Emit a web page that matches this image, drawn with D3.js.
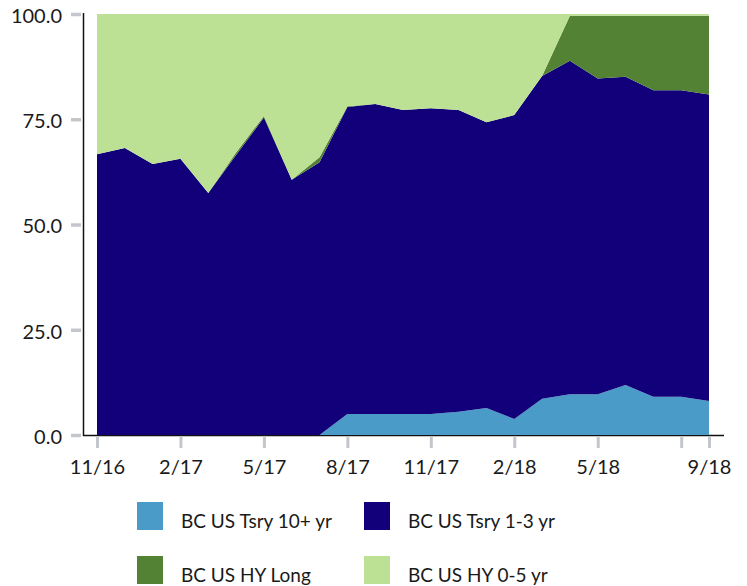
<!DOCTYPE html>
<html>
<head>
<meta charset="utf-8">
<script src="https://cdn.jsdelivr.net/npm/d3@7"></script>
<style>
  html, body { margin: 0; padding: 0; background: #ffffff; }
  svg { display: block; font-family: Lato, "DejaVu Sans", sans-serif; }
</style>
</head>
<body>
<svg id="chart" width="747" height="586"></svg>
<script>
// Monthly allocation (%), Nov 2016 – Sep 2018
const months = ["11/16","12/16","1/17","2/17","3/17","4/17","5/17","6/17","7/17","8/17","9/17","10/17",
                "11/17","12/17","1/18","2/18","3/18","4/18","5/18","6/18","7/18","8/18","9/18"];
const tsryLong  = [0, 0, 0, 0, 0, 0, 0, 0, 0, 5.0, 5.0, 5.0, 5.0, 5.5, 6.4, 3.8, 8.6, 9.7, 9.7, 11.9, 9.1, 9.1, 8.1];
const tsryShort = [66.7, 68.2, 64.4, 65.6, 57.5, 66.5, 75.4, 60.6, 64.8, 72.9, 73.6, 72.2, 72.6, 71.7, 67.9, 72.2, 76.7, 79.2, 75.0, 73.2, 72.8, 72.8, 72.8];
const hyLong    = [0, 0, 0, 0, 0, 0.6, 0.4, 0, 1.2, 0.2, 0, 0, 0, 0, 0, 0, 0, 10.7, 14.9, 14.5, 17.7, 17.7, 18.7];
const hyShort   = [33.3, 31.8, 35.6, 34.4, 42.5, 32.9, 24.2, 39.4, 34.0, 21.9, 21.4, 22.8, 22.4, 22.8, 25.7, 24.0, 14.7, 0.4, 0.4, 0.4, 0.4, 0.4, 0.4];

const seriesNames = ["BC US Tsry 10+ yr", "BC US Tsry 1-3 yr", "BC US HY Long", "BC US HY 0-5 yr"];
const seriesColors = ["#4a9bc7", "#12007a", "#548235", "#bde194"];
const yTicks = [0, 25, 50, 75, 100];
const xTickIdx = [0, 3, 6, 9, 12, 15, 18, 21, 22];
const xLabelSkip = [21];

const keys = ["a", "b", "c", "d"];
const rows = months.map((m, i) => ({ i, a: tsryLong[i], b: tsryShort[i], c: hyLong[i], d: hyShort[i] }));
const stacked = d3.stack().keys(keys)(rows);

const svg = d3.select("#chart");
const x = d3.scaleLinear().domain([0, months.length - 1]).range([97, 709]);
const y = d3.scaleLinear().domain([0, 100]).range([435, 14]);

// x axis base line (under the areas)
svg.append("line")
  .attr("x1", 83).attr("x2", 724).attr("y1", 435.5).attr("y2", 435.5)
  .attr("stroke", "#111").attr("stroke-width", 1.5);

// stacked areas
const area = d3.area()
  .x(d => x(d.data.i))
  .y0(d => y(d[0]))
  .y1(d => y(d[1]));

svg.append("g").selectAll("path")
  .data(stacked)
  .join("path")
  .attr("d", area)
  .attr("fill", (d, k) => seriesColors[k]);

// y axis
const yAxis = d3.axisLeft(y)
  .tickValues(yTicks)
  .tickFormat(d3.format(".1f"))
  .tickSizeInner(10).tickSizeOuter(0).tickPadding(9);

const gy = svg.append("g").attr("transform", "translate(81,0)").call(yAxis);
gy.select(".domain").remove();
gy.selectAll(".tick line").attr("stroke", "#c3c7cc").attr("stroke-width", 3.5);
gy.selectAll(".tick text")
  .attr("fill", "#1a1a1a").attr("font-size", 20).attr("font-family", "Lato, sans-serif")
  .attr("dy", "0.42em");

svg.append("line")
  .attr("x1", 83.5).attr("x2", 83.5).attr("y1", 13).attr("y2", 436)
  .attr("stroke", "#111").attr("stroke-width", 1.5);

// x axis
const xAxis = d3.axisBottom(x)
  .tickValues(xTickIdx)
  .tickFormat(i => xLabelSkip.includes(i) ? "" : months[i])
  .tickSizeInner(12).tickSizeOuter(0).tickPadding(12);

const gx = svg.append("g").attr("transform", "translate(0,436)").call(xAxis);
gx.select(".domain").remove();
gx.selectAll(".tick line").attr("stroke", "#c3c7cc").attr("stroke-width", 3);
gx.selectAll(".tick text")
  .attr("fill", "#1a1a1a").attr("font-size", 20).attr("font-family", "Lato, sans-serif");

// legend
const legendPos = [[137, 502], [364, 502], [137, 556], [364, 556]];
const lg = svg.append("g").selectAll("g")
  .data(seriesNames)
  .join("g")
  .attr("transform", (d, k) => `translate(${legendPos[k][0]},${legendPos[k][1]})`);

lg.append("rect")
  .attr("width", 26).attr("height", 28)
  .attr("fill", (d, k) => seriesColors[k]);

lg.append("text")
  .attr("x", 44).attr("y", 26)
  .attr("font-size", 19).attr("fill", "#1a1a1a")
  .text(d => d);
</script>
</body>
</html>
